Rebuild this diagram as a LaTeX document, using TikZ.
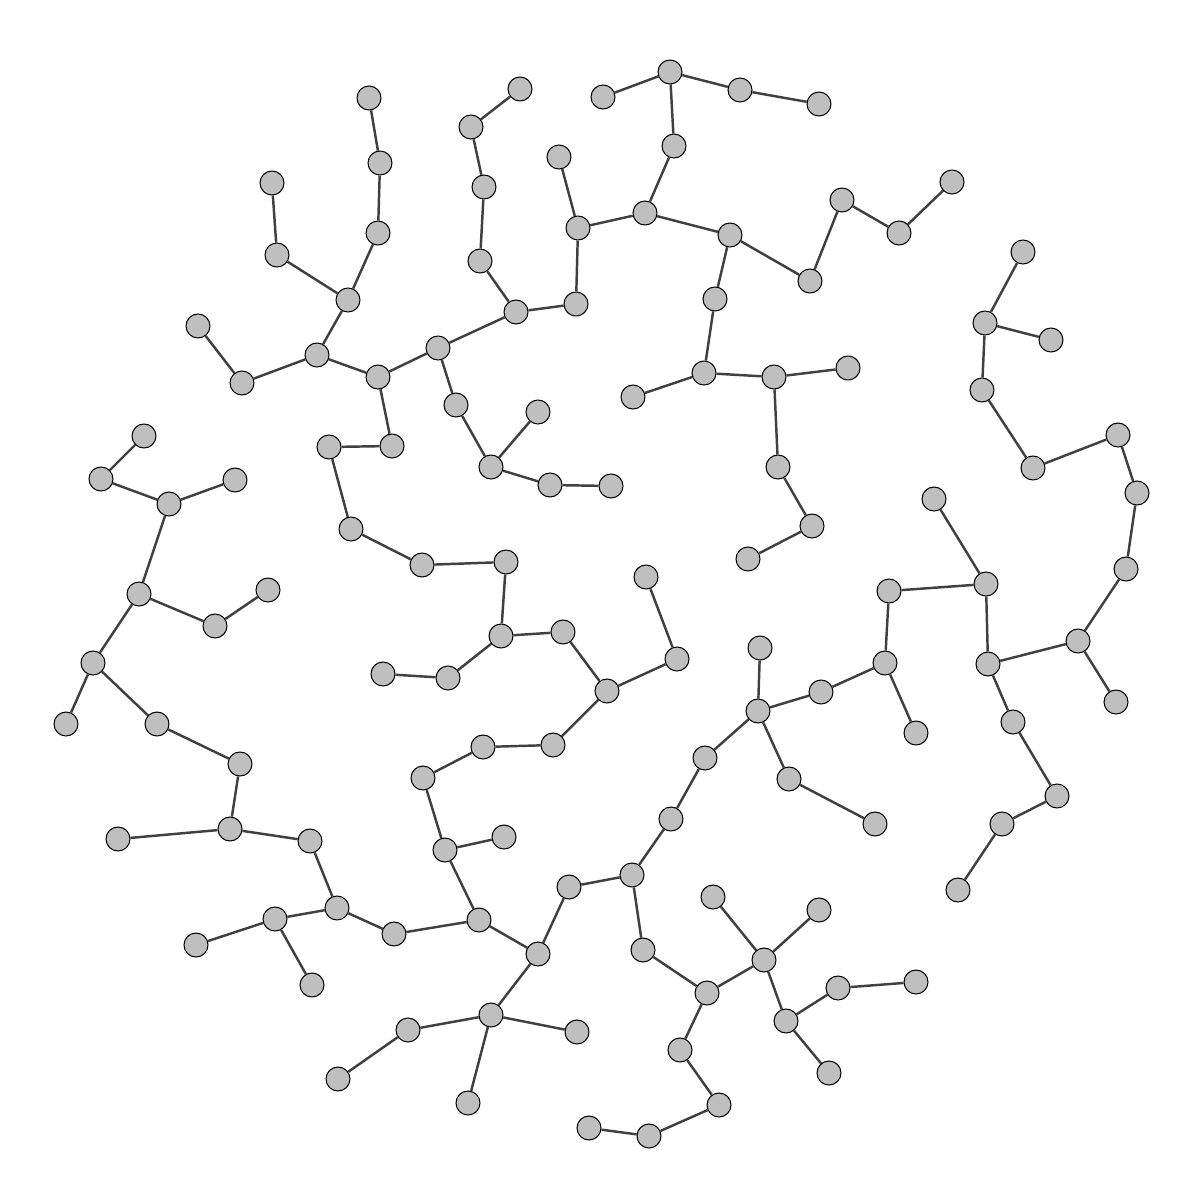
\documentclass[tikz,border=0pt]{standalone}
\usepackage{tikz}

\tikzset{
  vert/.style={circle, draw=black, line width=0.6pt, fill=black!25, inner sep=0pt, minimum size=0.48cm},
  link/.style={draw=black!75, line width=1.4pt}
}

\begin{document}
\begin{tikzpicture}[x=0.02cm, y=-0.02cm]
\useasboundingbox (0,0) rectangle (1200,1200);
\node[vert] (P1) at (369,98) {};
\node[vert] (P2) at (380,163) {};
\node[vert] (P3) at (378,233) {};
\node[vert] (P4) at (272,183) {};
\node[vert] (P5) at (277,255) {};
\node[vert] (P6) at (348,300) {};
\node[vert] (P7) at (317,355) {};
\node[vert] (P8) at (198,326) {};
\node[vert] (P9) at (242,383) {};
\node[vert] (P10) at (378,377) {};
\node[vert] (P11) at (438,348) {};
\node[vert] (P12) at (516,312) {};
\node[vert] (P13) at (576,304) {};
\node[vert] (P14) at (578,228) {};
\node[vert] (P15) at (559,157) {};
\node[vert] (P16) at (645,213) {};
\node[vert] (P17) at (674,146) {};
\node[vert] (P18) at (670,72) {};
\node[vert] (P19) at (603,97) {};
\node[vert] (P20) at (740,90) {};
\node[vert] (P21) at (819,104) {};
\node[vert] (P22) at (730,235) {};
\node[vert] (P23) at (810,281) {};
\node[vert] (P24) at (842,200) {};
\node[vert] (P25) at (899,233) {};
\node[vert] (P26) at (952,182) {};
\node[vert] (P27) at (715,299) {};
\node[vert] (P28) at (704,373) {};
\node[vert] (P29) at (633,397) {};
\node[vert] (P30) at (774,377) {};
\node[vert] (P31) at (848,368) {};
\node[vert] (P32) at (778,467) {};
\node[vert] (P33) at (812,526) {};
\node[vert] (P34) at (748,559) {};
\node[vert] (P35) at (520,89) {};
\node[vert] (P36) at (471,127) {};
\node[vert] (P37) at (484,187) {};
\node[vert] (P38) at (480,261) {};
\node[vert] (P39) at (456,405) {};
\node[vert] (P40) at (491,467) {};
\node[vert] (P41) at (538,412) {};
\node[vert] (P42) at (550,485) {};
\node[vert] (P43) at (611,486) {};
\node[vert] (P44) at (392,446) {};
\node[vert] (P45) at (329,447) {};
\node[vert] (P46) at (351,529) {};
\node[vert] (P47) at (422,565) {};
\node[vert] (P48) at (506,562) {};
\node[vert] (P49) at (501,636) {};
\node[vert] (P50) at (563,632) {};
\node[vert] (P51) at (448,678) {};
\node[vert] (P52) at (383,674) {};
\node[vert] (P53) at (607,691) {};
\node[vert] (P54) at (677,659) {};
\node[vert] (P55) at (646,577) {};
\node[vert] (P56) at (553,745) {};
\node[vert] (P57) at (483,747) {};
\node[vert] (P58) at (423,778) {};
\node[vert] (P59) at (445,850) {};
\node[vert] (P60) at (504,837) {};
\node[vert] (P61) at (479,920) {};
\node[vert] (P62) at (394,934) {};
\node[vert] (P63) at (337,908) {};
\node[vert] (P64) at (310,841) {};
\node[vert] (P65) at (230,829) {};
\node[vert] (P66) at (118,839) {};
\node[vert] (P67) at (240,764) {};
\node[vert] (P68) at (157,724) {};
\node[vert] (P69) at (93,663) {};
\node[vert] (P70) at (66,724) {};
\node[vert] (P71) at (139,594) {};
\node[vert] (P72) at (215,626) {};
\node[vert] (P73) at (268,590) {};
\node[vert] (P74) at (169,504) {};
\node[vert] (P75) at (101,479) {};
\node[vert] (P76) at (144,436) {};
\node[vert] (P77) at (235,480) {};
\node[vert] (P78) at (275,919) {};
\node[vert] (P79) at (196,945) {};
\node[vert] (P80) at (312,985) {};
\node[vert] (P81) at (538,954) {};
\node[vert] (P82) at (569,887) {};
\node[vert] (P83) at (632,875) {};
\node[vert] (P84) at (671,819) {};
\node[vert] (P85) at (705,758) {};
\node[vert] (P86) at (758,711) {};
\node[vert] (P87) at (760,648) {};
\node[vert] (P88) at (821,692) {};
\node[vert] (P89) at (885,663) {};
\node[vert] (P90) at (889,591) {};
\node[vert] (P91) at (986,584) {};
\node[vert] (P92) at (934,499) {};
\node[vert] (P93) at (988,664) {};
\node[vert] (P94) at (916,733) {};
\node[vert] (P95) at (789,779) {};
\node[vert] (P96) at (875,824) {};
\node[vert] (P97) at (1078,641) {};
\node[vert] (P98) at (1116,702) {};
\node[vert] (P99) at (1126,569) {};
\node[vert] (P100) at (1137,493) {};
\node[vert] (P101) at (1118,435) {};
\node[vert] (P102) at (1033,468) {};
\node[vert] (P103) at (982,390) {};
\node[vert] (P104) at (985,323) {};
\node[vert] (P105) at (1023,252) {};
\node[vert] (P106) at (1051,340) {};
\node[vert] (P107) at (1013,722) {};
\node[vert] (P108) at (1057,796) {};
\node[vert] (P109) at (1002,824) {};
\node[vert] (P110) at (958,890) {};
\node[vert] (P111) at (491,1015) {};
\node[vert] (P112) at (408,1030) {};
\node[vert] (P113) at (338,1079) {};
\node[vert] (P114) at (577,1032) {};
\node[vert] (P115) at (468,1103) {};
\node[vert] (P116) at (643,950) {};
\node[vert] (P117) at (707,993) {};
\node[vert] (P118) at (764,960) {};
\node[vert] (P119) at (713,897) {};
\node[vert] (P120) at (819,910) {};
\node[vert] (P121) at (786,1021) {};
\node[vert] (P122) at (838,988) {};
\node[vert] (P123) at (916,982) {};
\node[vert] (P124) at (829,1073) {};
\node[vert] (P125) at (680,1050) {};
\node[vert] (P126) at (719,1105) {};
\node[vert] (P127) at (649,1136) {};
\node[vert] (P128) at (589,1128) {};
\path[link]
(P1) edge (P2)
(P2) edge (P3)
(P3) edge (P6)
(P4) edge (P5)
(P5) edge (P6)
(P6) edge (P7)
(P8) edge (P9)
(P9) edge (P7)
(P7) edge (P10)
(P10) edge (P11)
(P11) edge (P12)
(P12) edge (P13)
(P13) edge (P14)
(P12) edge (P38)
(P38) edge (P37)
(P37) edge (P36)
(P36) edge (P35)
(P10) edge (P44)
(P44) edge (P45)
(P11) edge (P39)
(P39) edge (P40)
(P40) edge (P41)
(P40) edge (P42)
(P42) edge (P43)
(P14) edge (P15)
(P14) edge (P16)
(P16) edge (P17)
(P17) edge (P18)
(P18) edge (P19)
(P18) edge (P20)
(P20) edge (P21)
(P16) edge (P22)
(P22) edge (P23)
(P23) edge (P24)
(P24) edge (P25)
(P25) edge (P26)
(P22) edge (P27)
(P27) edge (P28)
(P28) edge (P29)
(P28) edge (P30)
(P30) edge (P31)
(P30) edge (P32)
(P32) edge (P33)
(P33) edge (P34)
(P104) edge (P105)
(P104) edge (P106)
(P104) edge (P103)
(P103) edge (P102)
(P102) edge (P101)
(P101) edge (P100)
(P100) edge (P99)
(P99) edge (P97)
(P97) edge (P98)
(P97) edge (P93)
(P93) edge (P91)
(P91) edge (P92)
(P91) edge (P90)
(P90) edge (P89)
(P89) edge (P94)
(P89) edge (P88)
(P88) edge (P86)
(P86) edge (P87)
(P86) edge (P95)
(P95) edge (P96)
(P86) edge (P85)
(P85) edge (P84)
(P84) edge (P83)
(P83) edge (P82)
(P82) edge (P81)
(P93) edge (P107)
(P107) edge (P108)
(P108) edge (P109)
(P109) edge (P110)
(P45) edge (P46)
(P46) edge (P47)
(P47) edge (P48)
(P48) edge (P49)
(P49) edge (P50)
(P49) edge (P51)
(P51) edge (P52)
(P50) edge (P53)
(P53) edge (P54)
(P54) edge (P55)
(P53) edge (P56)
(P56) edge (P57)
(P57) edge (P58)
(P58) edge (P59)
(P59) edge (P60)
(P59) edge (P61)
(P61) edge (P62)
(P62) edge (P63)
(P63) edge (P64)
(P64) edge (P65)
(P65) edge (P66)
(P65) edge (P67)
(P67) edge (P68)
(P68) edge (P69)
(P69) edge (P70)
(P69) edge (P71)
(P71) edge (P72)
(P72) edge (P73)
(P71) edge (P74)
(P74) edge (P75)
(P74) edge (P77)
(P75) edge (P76)
(P63) edge (P78)
(P78) edge (P79)
(P78) edge (P80)
(P61) edge (P81)
(P81) edge (P111)
(P111) edge (P112)
(P112) edge (P113)
(P111) edge (P114)
(P111) edge (P115)
(P83) edge (P116)
(P116) edge (P117)
(P117) edge (P118)
(P118) edge (P119)
(P118) edge (P120)
(P118) edge (P121)
(P121) edge (P122)
(P122) edge (P123)
(P121) edge (P124)
(P117) edge (P125)
(P125) edge (P126)
(P126) edge (P127)
(P127) edge (P128);
\end{tikzpicture}
\end{document}
